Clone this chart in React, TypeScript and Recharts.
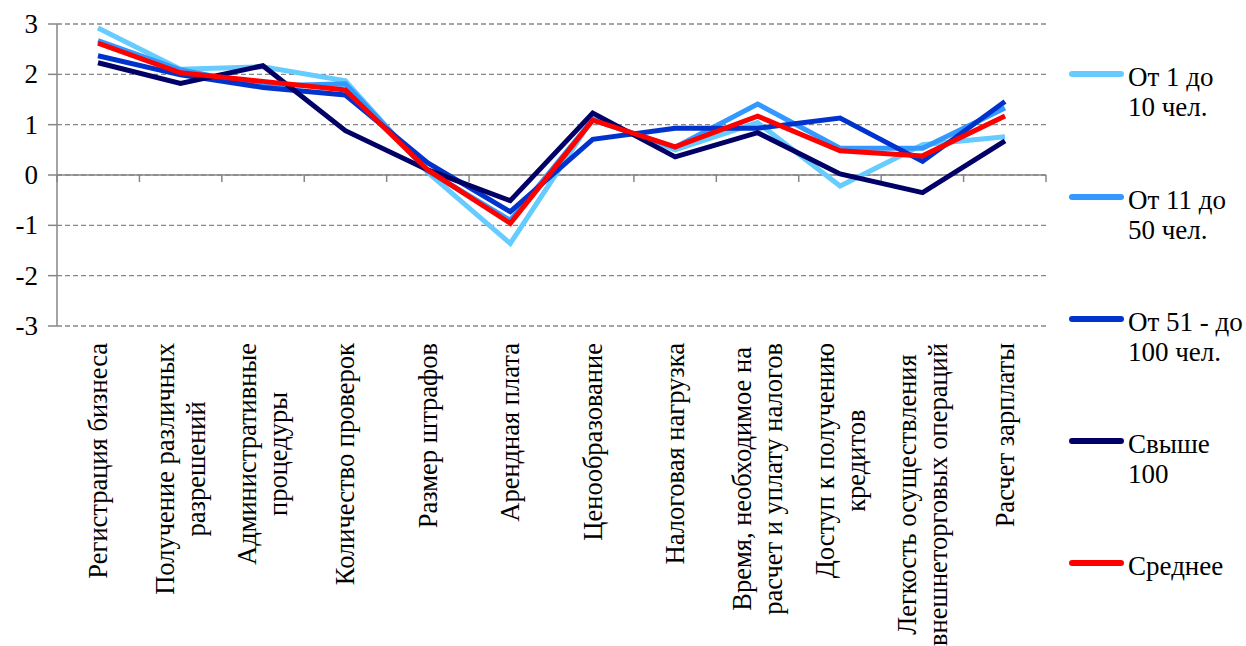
import {
  LineChart, Line, XAxis, YAxis, CartesianGrid, ReferenceLine, Legend,
} from "recharts";

const categories = [
  "Регистрация бизнеса",
  "Получение различных\nразрешений",
  "Административные\nпроцедуры",
  "Количество проверок",
  "Размер штрафов",
  "Арендная плата",
  "Ценообразование",
  "Налоговая нагрузка",
  "Время, необходимое на\nрасчет и уплату налогов",
  "Доступ к получению\nкредитов",
  "Легкость осуществления\nвнешнеторговых операций",
  "Расчет зарплаты",
];

const from1to10 = [2.92, 2.1, 2.15, 1.87, 0.05, -1.36, 1.12, 0.5, 1.04, -0.22, 0.6, 0.76];
const from11to50 = [2.67, 2.09, 1.77, 1.81, 0.08, -0.9, 1.1, 0.55, 1.41, 0.53, 0.53, 1.33];
const from51to100 = [2.37, 1.99, 1.74, 1.59, 0.24, -0.73, 0.71, 0.93, 0.93, 1.13, 0.27, 1.46];
const over100 = [2.23, 1.82, 2.17, 0.88, 0.1, -0.51, 1.23, 0.36, 0.84, 0.02, -0.35, 0.68];
const average = [2.62, 2.03, 1.86, 1.69, 0.1, -0.96, 1.09, 0.56, 1.17, 0.48, 0.38, 1.17];

const yTicks = [-3, -2, -1, 0, 1, 2, 3];

const SERIES = [
  { key: "s1", label: "От 1 до\n10 чел.", color: "#66CCFF", values: from1to10 },
  { key: "s2", label: "От 11 до\n50 чел.", color: "#3399FF", values: from11to50 },
  { key: "s3", label: "От 51 - до\n100 чел.", color: "#0033CC", values: from51to100 },
  { key: "s4", label: "Свыше\n100", color: "#000066", values: over100 },
  { key: "s5", label: "Среднее", color: "#FF0000", values: average },
];

const data = categories.map((cat, i) => {
  const row: Record<string, string | number> = { cat };
  SERIES.forEach((s) => { row[s.key] = s.values[i]; });
  return row;
});

const FONT = '"Liberation Serif", serif';
const LABEL_SIZE = 26.5;
const LINE_GAP = 31;
const AXIS_GRAY = "#868686";

let measureCtx: CanvasRenderingContext2D | null = null;
function textWidth(t: string) {
  if (!measureCtx) measureCtx = document.createElement("canvas").getContext("2d");
  if (!measureCtx) return t.length * 12;
  measureCtx.font = `${LABEL_SIZE}px "Liberation Serif"`;
  return measureCtx.measureText(t).width;
}

function CatTick({ x, y, payload }: any) {
  const lines = String(payload.value).split("\n");
  const maxW = Math.max(...lines.map(textWidth));
  const cy = y + 9 + maxW / 2;
  return (
    <g>
      {lines.map((ln, i) => {
        const lx = x + (i - (lines.length - 1) / 2) * LINE_GAP;
        return (
          <text
            key={i}
            x={lx}
            y={cy}
            transform={`rotate(-90, ${lx}, ${cy})`}
            textAnchor="middle"
            dominantBaseline="central"
            style={{ fontFamily: FONT, fontSize: LABEL_SIZE }}
            fill="#000"
          >
            {ln}
          </text>
        );
      })}
    </g>
  );
}

// zero line with category boundary ticks
function ZeroAxis(props: any) {
  const { x1, y1, x2 } = props;
  const n = categories.length;
  const step = (x2 - x1) / n;
  return (
    <g>
      <line x1={x1} y1={y1} x2={x2} y2={y1} stroke={AXIS_GRAY} strokeWidth={1.5} />
      {Array.from({ length: n + 1 }, (_, i) => (
        <line key={i} x1={x1 + i * step} y1={y1} x2={x1 + i * step} y2={y1 + 7} stroke={AXIS_GRAY} strokeWidth={1.5} />
      ))}
    </g>
  );
}

// y tick: label plus the short outward tick mark
function YTick({ x, y, payload }: any) {
  return (
    <g>
      <line x1={x + 10} y1={y} x2={x + 19} y2={y} stroke={AXIS_GRAY} strokeWidth={1.5} />
      <text x={x} y={y} textAnchor="end" dominantBaseline="central" fill="#000" style={{ fontFamily: FONT, fontSize: 27 }}>
        {payload.value}
      </text>
    </g>
  );
}

const LEGEND_TOPS = [74, 197, 319, 441, 563];

function LegendBox() {
  return (
    <div style={{ position: "relative", width: 180, height: 646 }}>
      {SERIES.map((s, i) => (
        <div key={s.key} style={{ position: "absolute", left: 0, top: LEGEND_TOPS[i] - 12, display: "flex" }}>
          <span style={{ display: "inline-block", width: 55, height: 6, marginTop: 9, borderRadius: 3, background: s.color }} />
          <span style={{ marginLeft: 4, fontFamily: FONT, fontSize: 27, lineHeight: "30px", color: "#000", whiteSpace: "pre" }}>
            {s.label}
          </span>
        </div>
      ))}
    </div>
  );
}

export default function App() {
  return (
    <div style={{ position: "absolute", left: 0, top: 0, width: 1246, height: 646, background: "#fff" }}>
      <LineChart width={1246} height={646} data={data} margin={{ top: 24, right: 200, bottom: 0, left: 0 }}>
        <CartesianGrid vertical={false} stroke={AXIS_GRAY} strokeDasharray="5 3" strokeWidth={1.3} />
        {/* solid left axis line */}
        <CartesianGrid
          horizontal={false}
          vertical
          verticalCoordinatesGenerator={({ offset }: any) => [offset.left]}
          stroke={AXIS_GRAY}
          strokeWidth={1.5}
        />
        <XAxis
          dataKey="cat"
          interval={0}
          height={320}
          padding={{ left: 41, right: 41 }}
          axisLine={false}
          tickLine={false}
          tick={<CatTick />}
        />
        <YAxis
          domain={[-3, 3]}
          ticks={yTicks}
          width={57}
          axisLine={false}
          tickLine={false}
          tickSize={9}
          tickMargin={10}
          tick={<YTick />}
        />
        <ReferenceLine y={0} shape={<ZeroAxis />} />
        <Legend
          layout="horizontal"
          verticalAlign="middle"
          align="center"
          wrapperStyle={{ position: "absolute", left: 1069, top: 0, width: 177, height: 646 }}
          content={() => <LegendBox />}
        />
        {SERIES.map((s) => (
          <Line
            key={s.key}
            dataKey={s.key}
            name={s.label}
            stroke={s.color}
            strokeWidth={5}
            dot={false}
            activeDot={false}
            type="linear"
            isAnimationActive={false}
          />
        ))}
      </LineChart>
    </div>
  );
}
